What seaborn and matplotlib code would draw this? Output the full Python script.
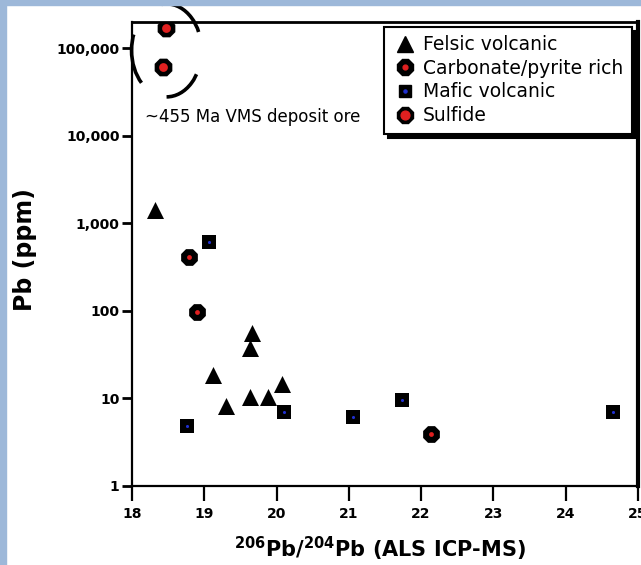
import numpy as np
import pandas as pd
import matplotlib
matplotlib.use("Agg")
import matplotlib.pyplot as plt
import matplotlib.transforms as mtransforms
from matplotlib.patches import Ellipse, Rectangle
from matplotlib.lines import Line2D
import seaborn as sns

# values
felsic_x = [18.32, 19.66, 19.63, 19.12, 19.30, 19.63, 19.88, 20.07]
felsic_pb = [1420, 56, 38, 18.5, 8.2, 10.4, 10.4, 14.6]

carb_x = [18.79, 18.90, 22.14]
carb_pb = [418, 97, 3.9]

mafic_x = [19.07, 18.76, 20.10, 21.06, 21.73, 24.65]
mafic_pb = [620, 4.8, 6.9, 6.1, 9.7, 6.9]

sulfide_x = [18.47, 18.43]
sulfide_pb = [170000, 62000]

x_ticks = [18, 19, 20, 21, 22, 23, 24, 25]
y_ticks = [1, 10, 100, 1000, 10000, 100000]
y_ticklabels = ["1", "10", "100", "1,000", "10,000", "100,000"]

groups = ["Felsic volcanic", "Carbonate/pyrite rich", "Mafic volcanic", "Sulfide"]

df = pd.concat([
    pd.DataFrame({"x": felsic_x, "pb": felsic_pb, "type": groups[0]}),
    pd.DataFrame({"x": carb_x, "pb": carb_pb, "type": groups[1]}),
    pd.DataFrame({"x": mafic_x, "pb": mafic_pb, "type": groups[2]}),
    pd.DataFrame({"x": sulfide_x, "pb": sulfide_pb, "type": groups[3]}),
], ignore_index=True)

markers = {groups[0]: "^", groups[1]: "8", groups[2]: "s", groups[3]: "8"}
sizes = {groups[0]: 150, groups[1]: 170, groups[2]: 90, groups[3]: 190}
dot_color = {groups[0]: None, groups[1]: "#e02020", groups[2]: "#2030d0", groups[3]: "#e02020"}
dot_size = {groups[0]: 0, groups[1]: 12, groups[2]: 5, groups[3]: 40}

sns.set_style("ticks")
plt.rcParams["font.family"] = ["DejaVu Sans"]
plt.rcParams["text.color"] = "black"
plt.rcParams["axes.labelcolor"] = "black"
plt.rcParams["xtick.color"] = "black"
plt.rcParams["ytick.color"] = "black"

fig = plt.figure(figsize=(6.41, 5.65), dpi=100)
ax = fig.add_axes([0.206, 0.140, 0.789, 0.821])

for g in groups:
    sub = df[df["type"] == g]
    sns.scatterplot(data=sub, x="x", y="pb", marker=markers[g], s=sizes[g],
                    color="black", edgecolor="black", linewidth=0, ax=ax,
                    legend=False, zorder=3)
    if dot_color[g]:
        sns.scatterplot(data=sub, x="x", y="pb", marker="o", s=dot_size[g],
                        color=dot_color[g], linewidth=0, ax=ax,
                        legend=False, zorder=4)

ax.set_yscale("log")
ax.set_xlim(18, 25)
ax.set_ylim(1, 2.0e5)
ax.set_xticks(x_ticks)
ax.set_xticklabels([str(t) for t in x_ticks])
ax.set_yticks(y_ticks)
ax.set_yticklabels(y_ticklabels)
ax.minorticks_off()
ax.tick_params(axis="x", direction="out", length=11, width=1.6, labelsize=10, pad=4)
ax.tick_params(axis="y", direction="out", length=7, width=2, labelsize=10, pad=2)
for lab in ax.get_xticklabels() + ax.get_yticklabels():
    lab.set_fontweight("bold")

ax.spines["left"].set_linewidth(1.6)
ax.spines["bottom"].set_linewidth(1.6)
ax.spines["top"].set_linewidth(2)
ax.spines["right"].set_linewidth(3)
for s in ax.spines.values():
    s.set_color("black")

ax.set_xlabel("$\\mathbf{^{206}}$Pb/$\\mathbf{^{204}}$Pb (ALS ICP-MS)",
              fontsize=15, fontweight="bold")
ax.set_ylabel("Pb (ppm)", fontsize=17, fontweight="bold")
ax.xaxis.set_label_coords(0.49, -0.105)
ax.yaxis.set_label_coords(-0.187, 0.51)

# dashed ring around the sulfide samples
cx = np.mean(sulfide_x)
cy = np.exp(np.mean(np.log(sulfide_pb)))
ring_tr = fig.dpi_scale_trans + mtransforms.ScaledTranslation(cx, cy, ax.transData)
ring = Ellipse((0.02, -0.03), 0.70, 0.93, transform=ring_tr, fill=False,
               edgecolor="black", linewidth=2.6, linestyle=(3, (14, 12)),
               clip_on=False, zorder=5)
ax.add_patch(ring)

ax.text(0.026, 0.795, "~455 Ma VMS deposit ore", transform=ax.transAxes,
        fontsize=12, ha="left", va="center")

# legend
handles = []
for g in groups:
    h = Line2D([], [], linestyle="none", marker=markers[g], color="black",
               markersize=np.sqrt(sizes[g]) * 0.95)
    if dot_color[g]:
        d = Line2D([], [], linestyle="none", marker="o", color=dot_color[g],
                   markersize=np.sqrt(dot_size[g]))
        handles.append((h, d))
    else:
        handles.append(h)
leg = ax.legend(handles, groups, loc="upper right", bbox_to_anchor=(0.988, 0.99),
                borderaxespad=0, frameon=True, fancybox=False, fontsize=13.5,
                handletextpad=0.25, labelspacing=0.25, borderpad=0.45,
                handlelength=1.4, shadow={"color": "black", "alpha": 1, "ox": 3, "oy": -3})
leg.get_frame().set_edgecolor("black")
leg.get_frame().set_linewidth(1.5)

# light blue frame strips of the original slide
fig.patches.append(Rectangle((0, 0), 0.0094, 1, transform=fig.transFigure,
                             color="#9db8d9", zorder=0))
fig.patches.append(Rectangle((0, 1 - 0.009), 1, 0.009, transform=fig.transFigure,
                             color="#9db8d9", zorder=0))

fig.savefig("out.png", dpi=100)
